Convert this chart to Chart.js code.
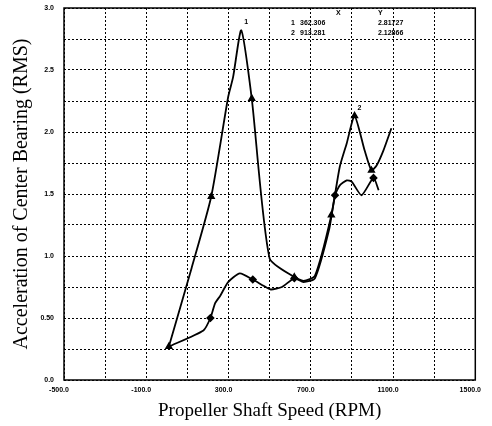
<!DOCTYPE html>
<html>
<head>
<meta charset="utf-8">
<script src="https://cdn.jsdelivr.net/npm/chart.js@4/dist/chart.umd.min.js"></script>
<style>
  html, body { margin: 0; padding: 0; background: #fff; }
  #wrap { width: 492px; height: 426px; }
</style>
</head>
<body>
<div id="wrap"><canvas id="rmsChart"></canvas></div>

<script>
  // trace with the big peak (cursor 1 and 2 sit on it)
  const rpmA = [10, 120, 216, 298, 322, 362, 413, 500, 620, 665, 720, 800, 841, 875, 913, 962, 995, 1020, 1053, 1092];
  const accA = [0.27, 0.90, 1.48, 2.28, 2.44, 2.82, 2.27, 0.98, 0.83, 0.80, 0.84, 1.33, 1.72, 1.91, 2.13, 1.85, 1.69, 1.73, 1.85, 2.03];

  // lower trace
  const rpmB = [10, 178, 212, 235, 260, 298, 355, 418, 470, 505, 560, 620, 665, 720, 790, 818, 841, 875, 899, 947, 1005, 1030];
  const accB = [0.27, 0.40, 0.50, 0.62, 0.68, 0.79, 0.86, 0.81, 0.76, 0.73, 0.75, 0.82, 0.79, 0.82, 1.22, 1.49, 1.57, 1.61, 1.60, 1.49, 1.63, 1.53];

  // where the plotter put a small symbol on each trace
  const markA = [10, 216, 413, 620, 800, 913, 995];
  const markB = [212, 418, 620, 818, 1005];

  // cursor readout
  const cursorIds = ['1', '2'];
  const cursorX = ['362.306', '913.281'];
  const cursorY = ['2.81727', '2.12866'];
  const cursorRpm = [362, 913];
  const cursorAcc = [2.82, 2.13];

  const toPts = (xs, ys) => xs.map((x, i) => ({x: x, y: ys[i]}));

  // frame + cursor text
  const framePlugin = {
    id: 'frame',
    afterDraw(chart) {
      const {ctx, chartArea: a, scales} = chart;
      ctx.save();
      ctx.strokeStyle = '#000';
      ctx.lineWidth = 1.5;
      ctx.strokeRect(a.left, a.top, a.right - a.left, a.bottom - a.top);

      ctx.fillStyle = '#000';
      ctx.font = 'bold 7px "Liberation Sans"';
      ctx.textBaseline = 'middle';
      ctx.textAlign = 'left';
      ctx.fillText('X', 336, 13);
      ctx.fillText('Y', 378, 13);
      cursorIds.forEach((id, i) => {
        const ty = 23 + i * 10;
        ctx.fillText(id, 291, ty);
        ctx.fillText(cursorX[i], 300, ty);
        ctx.fillText(cursorY[i], 378, ty);
        // label next to the peak
        const px = scales.x.getPixelForValue(cursorRpm[i]);
        const py = scales.y.getPixelForValue(cursorAcc[i]);
        ctx.fillText(id, px + 3, py - 8);
      });
      ctx.restore();
    }
  };

  const dotted = {color: '#000', lineWidth: 1, drawTicks: false};

  new Chart('rmsChart', {
    type: 'scatter',
    data: {
      datasets: [{
        data: toPts(rpmA, accA),
        showLine: true,
        borderColor: '#000',
        backgroundColor: '#000',
        borderWidth: 1.8,
        tension: 0.2,
        pointStyle: 'triangle',
        pointRadius: ctx => markA.includes(rpmA[ctx.dataIndex]) ? 3 : 0
      }, {
        data: toPts(rpmB, accB),
        showLine: true,
        borderColor: '#000',
        backgroundColor: '#000',
        borderWidth: 1.8,
        tension: 0.2,
        pointStyle: 'rectRot',
        pointRadius: ctx => markB.includes(rpmB[ctx.dataIndex]) ? 3 : 0
      }]
    },
    options: {
      responsive: true,
      maintainAspectRatio: false,
      animation: false,
      layout: {padding: {top: 8, right: 12, left: 0, bottom: 0}},
      plugins: {legend: {display: false}, tooltip: {enabled: false}},
      scales: {
        x: {
          type: 'linear',
          min: -500,
          max: 1500,
          grid: dotted,
          border: {display: false, dash: [2, 2]},
          ticks: {
            stepSize: 200,
            color: '#000',
            padding: 6,
            labelOffset: -5,
            font: {family: '"Liberation Sans"', size: 7, weight: 'bold'},
            maxRotation: 0,
            autoSkip: false,
            callback: v => ((v + 500) % 400 === 0) ? v.toFixed(1) : ''
          },
          title: {
            display: true,
            text: 'Propeller Shaft Speed (RPM)',
            color: '#000',
            font: {family: '"Liberation Serif"', size: 19},
            padding: {top: 10, bottom: 4}
          },
          afterFit(scale) { scale.height = 46; }
        },
        y: {
          min: 0,
          max: 3,
          grid: dotted,
          border: {display: false, dash: [2, 2]},
          ticks: {
            stepSize: 0.25,
            color: '#000',
            padding: 10,
            font: {family: '"Liberation Sans"', size: 7, weight: 'bold'},
            autoSkip: false,
            callback: v => {
              if (Math.abs(v * 2 - Math.round(v * 2)) > 1e-6) return '';
              return v === 0.5 ? '0.50' : v.toFixed(1);
            }
          },
          title: {
            display: true,
            text: 'Acceleration of Center Bearing (RMS)',
            color: '#000',
            font: {family: '"Liberation Serif"', size: 20},
            padding: {top: 10, bottom: 3}
          },
          afterFit(scale) {
            scale.width = 64;
            scale.paddingTop = 0;
          }
        }
      }
    },
    plugins: [framePlugin]
  });
</script>
</body>
</html>
